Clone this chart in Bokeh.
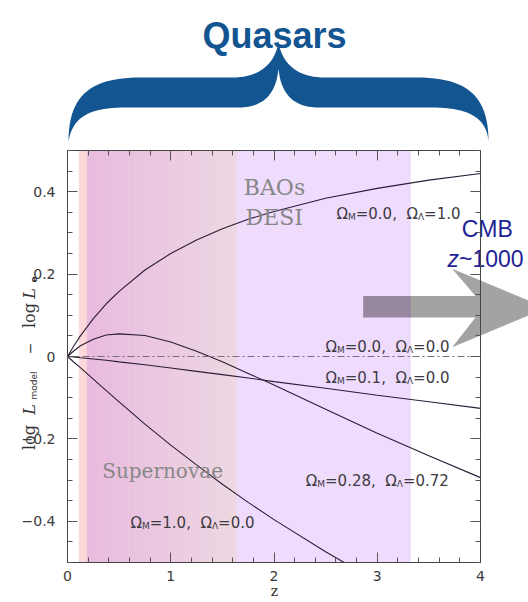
import numpy as np
from bokeh.plotting import figure
from bokeh.models import LinearAxis, FixedTicker, Range1d, ColumnDataSource
from bokeh.core.properties import value
from bokeh.embed import file_html
from bokeh.resources import INLINE

# ---------------- data ----------------
z = [0, 0.0625, 0.125, 0.25, 0.375, 0.5, 0.75, 1.0, 1.25, 1.5, 1.75, 2.0, 2.5, 3.0, 3.5, 4.0]
dl_m00_l10 = [0, 0.026, 0.050, 0.092, 0.128, 0.158, 0.210, 0.250, 0.283, 0.310, 0.333, 0.352, 0.384, 0.408, 0.428, 0.444]
dl_m01_l00 = [0, -0.001, -0.003, -0.006, -0.009, -0.013, -0.020, -0.028, -0.036, -0.044, -0.052, -0.061, -0.077, -0.094, -0.110, -0.126]
dl_m028_l072 = [0, 0.014, 0.026, 0.042, 0.052, 0.055, 0.051, 0.035, 0.013, -0.013, -0.041, -0.069, -0.128, -0.186, -0.241, -0.294]
z_m10 = [0, 0.0625, 0.125, 0.25, 0.375, 0.5, 0.75, 1.0, 1.25, 1.5, 1.75, 2.0, 2.5, 2.68]
dl_m10_l00 = [0, -0.014, -0.027, -0.055, -0.083, -0.110, -0.164, -0.215, -0.263, -0.310, -0.354, -0.396, -0.474, -0.500]
empty_z = [0, 4]
empty_dl = [0, 0]

sn_band = (0.11, 1.635)
bao_band = (0.19, 3.325)

z_lim = (0, 4)
dl_lim = (-0.5, 0.5)
x_ticks = [0, 1, 2, 3, 4]
x_tick_labels = ["0", "1", "2", "3", "4"]
y_ticks = [-0.4, -0.2, 0, 0.2, 0.4]
y_tick_labels = ["\u22120.4", "\u22120.2", "0", "0.2", "0.4"]

curve_labels = [("0.0", "1.0"), ("0.0", "0.0"), ("0.1", "0.0"), ("0.28", "0.72"), ("1.0", "0.0")]

# ---------------- layout constants (page px <-> data) ----------------
W_PX, H_PX = 528, 602
FX0, PXZ, FY0, PXY = 67.0, 103.25, 356.0, 412.0
def dz(px):
    return (px - FX0) / PXZ
def dy(py):
    return (FY0 - py) / PXY

p = figure(width=W_PX, height=H_PX, x_range=Range1d(dz(0), dz(W_PX)), y_range=Range1d(dy(H_PX), dy(0)),
           output_backend="svg", toolbar_location=None,
           min_border_left=0, min_border_right=0, min_border_top=0, min_border_bottom=0,
           x_axis_type=None, y_axis_type=None)
p.outline_line_color = None
p.background_fill_color = "white"
p.border_fill_color = "white"

def put_text(px, py, s, font, size, color, style="normal", align="left", angle=0.0, baseline="alphabetic"):
    p.text(x=[dz(px)], y=[dy(py)], text=[s], text_font=value(font), text_font_size=value("%gpx" % size),
           text_font_style=style, text_color=color, text_align=align, text_baseline=baseline, angle=angle)

# ---------------- shaded bands ----------------
ylo, yhi = dl_lim
p.quad(left=[sn_band[0]], right=[sn_band[1]], bottom=[ylo], top=[yhi], fill_color="#fdd9d9", line_color=None)
p.quad(left=[bao_band[0]], right=[bao_band[1]], bottom=[ylo], top=[yhi], fill_color="#efdcfd", line_color=None)
n = 40
edges = np.linspace(bao_band[0], sn_band[1], n + 1)
c0 = np.array([233, 187, 223]); c1 = np.array([238, 216, 226])
cols = []
for i in range(n):
    t = i / (n - 1)
    c = (c0 * (1 - t) + c1 * t).astype(int)
    cols.append("#%02x%02x%02x" % tuple(c))
gsrc = ColumnDataSource(dict(l=edges[:-1], r=edges[1:], c=cols))
p.quad(left="l", right="r", bottom=ylo, top=yhi, fill_color="c", line_color="c", line_width=0.6, source=gsrc)

# ---------------- CMB arrow ----------------
arrow_px = [(362.7, 295.5), (475, 295.5), (451.7, 268.3), (546, 307.5), (451.7, 346.7), (475, 317), (362.7, 317)]
p.patch([dz(a) for a, b in arrow_px], [dy(b) for a, b in arrow_px], fill_color="#7f7f7f", fill_alpha=0.72, line_color=None)
# darker tint where the arrow lies over the BAO band
p.quad(left=[dz(362.7)], right=[bao_band[1]], bottom=[dy(317)], top=[dy(295.5)],
       fill_color="#642a8c", fill_alpha=0.15, line_color=None)

# ---------------- curves ----------------
curve_col = "#2b1d36"
for xs, ys in ((z, dl_m00_l10), (z, dl_m01_l00), (z_m10, dl_m10_l00), (z, dl_m028_l072)):
    p.line(xs, ys, line_color=curve_col, line_width=1.1)
p.line(empty_z, empty_dl, line_color="#7a6a82", line_width=1, line_dash="7 3 2 3")

# ---------------- axes (fixed at the edges of the data area) ----------------
def style_axis(ax, labels=True):
    ax.axis_line_color = "#444444"
    ax.major_tick_line_color = "#555555"
    ax.minor_tick_line_color = "#555555"
    ax.major_tick_in = 10
    ax.major_tick_out = 0
    ax.minor_tick_in = 5
    ax.minor_tick_out = 0
    if labels:
        ax.major_label_text_font = "DejaVu Sans"
        ax.major_label_text_font_size = "14px"
        ax.major_label_text_color = "#3a3a3a"
    else:
        ax.major_label_text_font_size = "0px"
        ax.major_label_text_alpha = 0
        ax.major_label_standoff = 0

x_minor = list(np.round(np.arange(z_lim[0], z_lim[1] + 1e-6, 0.2), 3))
y_minor = list(np.round(np.arange(dl_lim[0], dl_lim[1] + 1e-6, 0.05), 3))
for loc, lab, fixed in (("below", True, dl_lim[0]), ("above", False, dl_lim[1])):
    ax = LinearAxis(ticker=FixedTicker(ticks=x_ticks, minor_ticks=x_minor), fixed_location=fixed, bounds=z_lim)
    style_axis(ax, lab)
    if lab:
        ax.major_label_overrides = {t: s for t, s in zip(x_ticks, x_tick_labels)}
        ax.major_label_standoff = 8
    p.add_layout(ax, loc)
for loc, lab, fixed in (("left", True, z_lim[0]), ("right", False, z_lim[1])):
    ax = LinearAxis(ticker=FixedTicker(ticks=y_ticks, minor_ticks=y_minor), fixed_location=fixed, bounds=dl_lim)
    style_axis(ax, lab)
    if lab:
        ax.major_label_overrides = {t: s for t, s in zip(y_ticks, y_tick_labels)}
        ax.major_label_standoff = 12
    p.add_layout(ax, loc)

# ---------------- curve labels ----------------
W = {'\u03a9': 0.765, 'M': 0.863, '\u039b': 0.684, '=': 0.838, '.': 0.318, ',': 0.318, ' ': 0.318}
for d in "0123456789":
    W[d] = 0.636
def tw(s, size):
    return sum(W.get(c, 0.6) for c in s) * size

MAIN, SUB = 15, 9
GAP = 2 * 0.318 * MAIN
lab_pos = [(336, 213), (325, 346), (325, 377.3), (305.3, 480), (130, 522.7)]
for (px, py), (om, ol) in zip(lab_pos, curve_labels):
    pieces = [("\u03a9", MAIN, 0, 0), ("M", SUB, 3, 0), ("=" + om + ",", MAIN, 0, GAP),
              ("\u03a9", MAIN, 0, 0), ("\u039b", SUB, 3, 0), ("=" + ol, MAIN, 0, 0)]
    off = 0.0
    for txt, size, drop, extra in pieces:
        put_text(px + off, py + drop, txt, "DejaVu Sans", size, "#3d3a42")
        off += tw(txt, size) + extra

# region labels
for txt, px, py, size in (("Supernovae", 101.7, 470.7, 20), ("BAOs", 243.3, 186.7, 22), ("DESI", 245, 216.7, 22)):
    put_text(px, py, txt, "DejaVu Serif", size, "#878787")

# CMB text
put_text(486.7, 228.5, "CMB", "Liberation Sans", 23, "#1f1f96", align="center")
put_text(447, 258.5, "z", "Liberation Sans", 23, "#1f1f96", style="italic")
put_text(458.5, 258.5, "~1000", "Liberation Sans", 23, "#1f1f96")

# ---------------- Quasars brace ----------------
def cubic(p0, p1, p2, p3, n=24):
    t = np.linspace(0, 1, n)[:, None]
    P = [np.array(q, dtype=float) for q in (p0, p1, p2, p3)]
    return ((1 - t) ** 3 * P[0] + 3 * (1 - t) ** 2 * t * P[1] + 3 * (1 - t) * t ** 2 * P[2] + t ** 3 * P[3])
segs = [
    cubic((68, 141), (68, 95), (90, 77), (140, 77)),
    cubic((232, 77), (262, 77), (276, 60), (278, 40)),
    cubic((278, 40), (280, 60), (294, 77), (324, 77)),
    cubic((416, 77), (466, 77), (488, 95), (488, 141)),
    cubic((488, 141), (486, 118), (470, 107), (430, 107)),
    cubic((318, 107), (290, 107), (280, 90), (278, 68)),
    cubic((278, 68), (276, 90), (266, 107), (238, 107)),
    cubic((126, 107), (86, 107), (72, 118), (68, 141)),
]
pts = np.vstack(segs)
p.patch([dz(a) for a in pts[:, 0]], [dy(b) for b in pts[:, 1]], fill_color="#135591", line_color=None)
put_text(274, 35, "Quasars", "Liberation Sans", 36, "#135591", style="bold", align="center")

# ---------------- axis titles ----------------
put_text(274, 590, "z", "DejaVu Serif", 14, "#333333", align="center")
ylab = [("log", "DejaVu Serif", "normal", 16, 437, 29),
        ("L", "DejaVu Serif", "italic", 16, 409, 29),
        ("model", "DejaVu Sans", "normal", 9, 385, 33),
        ("\u2212", "DejaVu Serif", "normal", 14, 348, 29),
        ("log", "DejaVu Serif", "normal", 16, 315, 29),
        ("L", "DejaVu Serif", "italic", 16, 293, 29),
        ("e", "DejaVu Sans", "bold", 9, 279, 33)]
for txt, font, style, size, py, px in ylab:
    put_text(px, py, txt, font, size, "#333333", style=style, align="center", angle=np.pi / 2)

open("out.html", "w").write(file_html(p, INLINE))
